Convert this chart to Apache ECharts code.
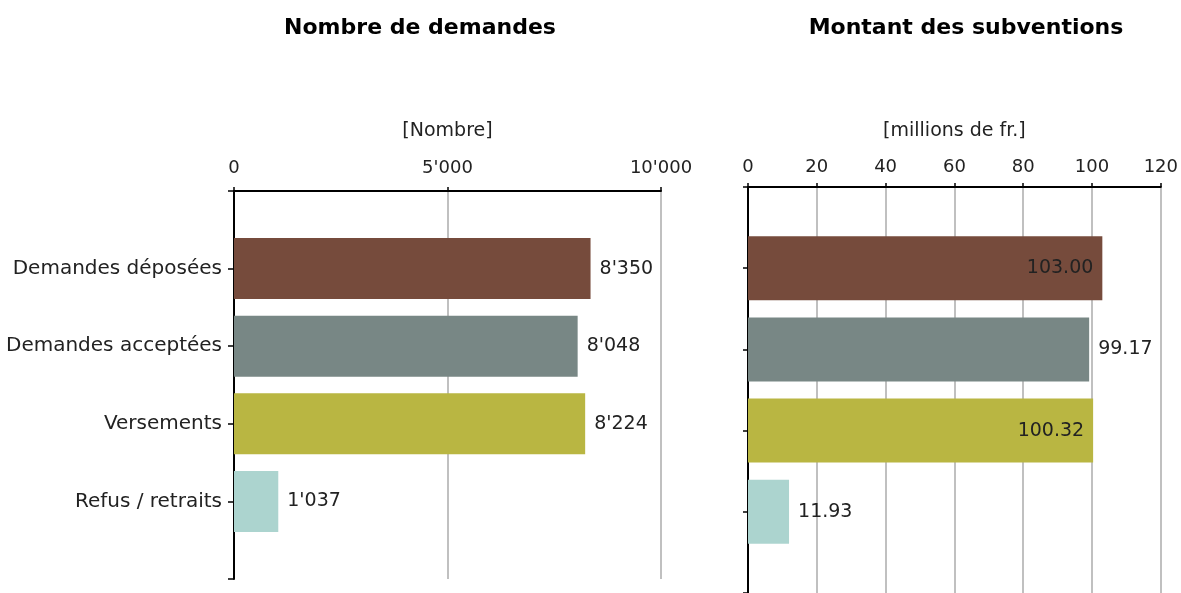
<!DOCTYPE html>
<html>
<head>
<meta charset="utf-8">
<script src="https://cdn.jsdelivr.net/npm/echarts@6/dist/echarts.min.js"></script>
<style>
  html, body { margin: 0; padding: 0; background: #fff; }
  #main { width: 1181px; height: 593px; }
</style>
</head>
<body>
<div id="main"></div>
<script>
// données
var categories = ['Demandes déposées', 'Demandes acceptées', 'Versements', 'Refus / retraits'];
var nombreDemandes = [8350, 8048, 8224, 1037];
var montantSubventions = [103.00, 99.17, 100.32, 11.93];
var barColors = ['#764B3C', '#788785', '#B9B642', '#ACD4CF'];

var FONT = '"DejaVu Sans", Verdana, sans-serif';

function fmtApos(v) {
    return String(v).replace(/\B(?=(\d{3})+(?!\d))/g, "'");
}

// une catégorie vide en haut et en bas, barres posées sur les graduations
var cats = [''].concat(categories).concat(['']);

function buildData(values, labelFn) {
    var out = [null];
    values.forEach(function (v, i) {
        var item = { value: v, itemStyle: { color: barColors[i] } };
        if (labelFn) item.label = labelFn(v);
        out.push(item);
    });
    out.push(null);
    return out;
}

var myChart = echarts.init(document.getElementById('main'));

var valueAxisBase = {
    type: 'value',
    position: 'top',
    nameLocation: 'middle',
    nameTextStyle: { fontFamily: FONT, fontSize: 19, color: '#222' },
    axisLine: { show: true, lineStyle: { color: '#000', width: 2 } },
    axisTick: { show: true, length: 4, lineStyle: { color: '#000', width: 1.5 } },
    axisLabel: { fontFamily: FONT, fontSize: 18, color: '#222' },
    splitLine: { show: true, lineStyle: { color: '#c0c0c0', width: 2 } }
};

var catAxisBase = {
    type: 'category',
    data: cats,
    inverse: true,
    boundaryGap: false,
    axisLine: { show: true, lineStyle: { color: '#000', width: 2 } },
    axisTick: { show: true, length: 6, lineStyle: { color: '#000', width: 1.5 } },
    splitLine: { show: false }
};

var titleStyle = { fontFamily: FONT, fontSize: 22, fontWeight: 'bold', color: '#000' };

myChart.setOption({
    animation: false,
    title: [
        { text: 'Nombre de demandes', left: 415, top: 12, textAlign: 'center', textStyle: titleStyle },
        { text: 'Montant des subventions', left: 961, top: 12, textAlign: 'center', textStyle: titleStyle }
    ],
    grid: [
        { left: 234, top: 191, width: 427, height: 388 },
        { left: 748, top: 187, width: 415, height: 413 }
    ],
    xAxis: [
        Object.assign({}, valueAxisBase, {
            gridIndex: 0, min: 0, max: 10000, interval: 5000,
            name: '[Nombre]', nameGap: 50,
            axisLabel: Object.assign({}, valueAxisBase.axisLabel, { margin: 14, formatter: fmtApos })
        }),
        Object.assign({}, valueAxisBase, {
            gridIndex: 1, min: 0, max: 120, interval: 20,
            name: '[millions de fr.]', nameGap: 46,
            axisLabel: Object.assign({}, valueAxisBase.axisLabel, { margin: 11 })
        })
    ],
    yAxis: [
        Object.assign({}, catAxisBase, {
            gridIndex: 0,
            axisLabel: { fontFamily: FONT, fontSize: 20, color: '#222', margin: 12 }
        }),
        Object.assign({}, catAxisBase, {
            gridIndex: 1,
            axisTick: { show: true, length: 5, lineStyle: { color: '#000', width: 1.5 } },
            axisLabel: { show: false }
        })
    ],
    series: [{
        type: 'bar',
        xAxisIndex: 0, yAxisIndex: 0,
        barWidth: 61,
        data: buildData(nombreDemandes),
        label: {
            show: true, position: 'right', distance: 9,
            fontFamily: FONT, fontSize: 19, color: '#222',
            formatter: function (p) { return fmtApos(p.value); }
        }
    }, {
        type: 'bar',
        xAxisIndex: 1, yAxisIndex: 1,
        barWidth: 64,
        data: buildData(montantSubventions, function (v) {
            // les barres dépassant 100 portent leur valeur à l'intérieur
            return v >= 100 ? { position: 'insideRight', distance: 9 } : { position: 'right', distance: 9 };
        }),
        label: {
            show: true,
            fontFamily: FONT, fontSize: 19, color: '#222',
            formatter: function (p) { return p.value.toFixed(2); }
        }
    }]
});
</script>
</body>
</html>
